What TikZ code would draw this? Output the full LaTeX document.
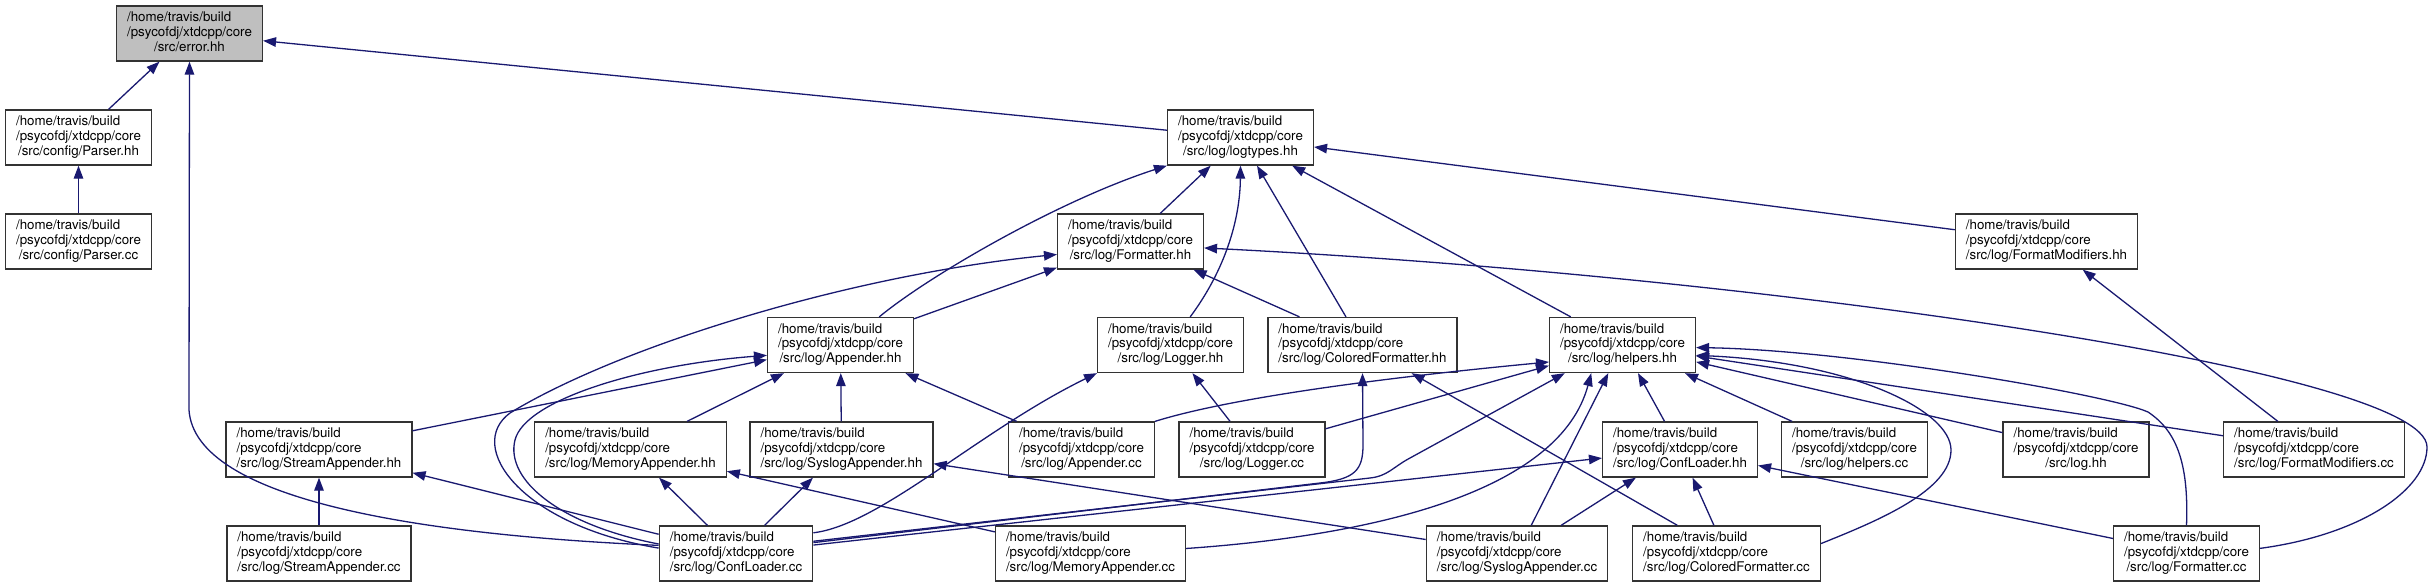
\documentclass[tikz,border=0pt]{standalone}
\usepackage{fontspec}
\setmainfont{TeX Gyre Heros}
\usepackage{xcolor}
\usepackage{tikz}
\usetikzlibrary{arrows.meta}
\definecolor{edgeblue}{HTML}{191970}
\newcommand{\srcfile}[1]{\begin{tabular}{@{}l@{}}/home/travis/build\\/psycofdj/xtdcpp/core\\\multicolumn{1}{@{}c@{}}{#1}\end{tabular}}

\begin{document}
\begin{tikzpicture}[
  x=1pt, y=-1pt,
  file/.style={draw=black!80, line width=1.3pt, fill=white, inner xsep=10.5pt, inner ysep=5pt, minimum height=55pt, font=\fontsize{13.33}{14.7}\selectfont},
  focus/.style={file, fill=black!25},
  dep/.style={-{Triangle[length=13pt,width=9.5pt]}, draw=edgeblue, line width=1.3pt}
]
\useasboundingbox (0,0) rectangle (2434,587);
\node[focus] (errorhh) at (189.5,33.5) {\srcfile{/src/error.hh}};
\node[file] (parserhh) at (78.5,137.5) {\srcfile{/src/config/Parser.hh}};
\node[file] (parsercc) at (78.5,241.5) {\srcfile{/src/config/Parser.cc}};
\node[file] (logtypes) at (1240.5,137.5) {\srcfile{/src/log/logtypes.hh}};
\node[file] (formatterhh) at (1130.5,241.5) {\srcfile{/src/log/Formatter.hh}};
\node[file] (fmtmodhh) at (2046.5,241.5) {\srcfile{/src/log/FormatModifiers.hh}};
\node[file] (appenderhh) at (840.5,345) {\srcfile{/src/log/Appender.hh}};
\node[file] (loggerhh) at (1170.5,345) {\srcfile{/src/log/Logger.hh}};
\node[file] (coloredhh) at (1362.5,345) {\srcfile{/src/log/ColoredFormatter.hh}};
\node[file] (helpershh) at (1622.5,345) {\srcfile{/src/log/helpers.hh}};
\node[file] (streamhh) at (319,449.5) {\srcfile{/src/log/StreamAppender.hh}};
\node[file] (memoryhh) at (630.5,449.5) {\srcfile{/src/log/MemoryAppender.hh}};
\node[file] (sysloghh) at (841.5,449.5) {\srcfile{/src/log/SyslogAppender.hh}};
\node[file] (appendercc) at (1081.5,449.5) {\srcfile{/src/log/Appender.cc}};
\node[file] (loggercc) at (1252,449.5) {\srcfile{/src/log/Logger.cc}};
\node[file] (confloaderhh) at (1680,449.5) {\srcfile{/src/log/ConfLoader.hh}};
\node[file] (helperscc) at (1854.5,449.5) {\srcfile{/src/log/helpers.cc}};
\node[file] (loghh) at (2076,449.5) {\srcfile{/src/log.hh}};
\node[file] (fmtmodcc) at (2314,449.5) {\srcfile{/src/log/FormatModifiers.cc}};
\node[file] (streamcc) at (319,553.5) {\srcfile{/src/log/StreamAppender.cc}};
\node[file] (confloadercc) at (736,553.5) {\srcfile{/src/log/ConfLoader.cc}};
\node[file] (memorycc) at (1090.5,553.5) {\srcfile{/src/log/MemoryAppender.cc}};
\node[file] (syslogcc) at (1517,553.5) {\srcfile{/src/log/SyslogAppender.cc}};
\node[file] (coloredcc) at (1726.5,553.5) {\srcfile{/src/log/ColoredFormatter.cc}};
\node[file] (formattercc) at (2186.5,553.5) {\srcfile{/src/log/Formatter.cc}};
\draw[dep] (parserhh) -- (errorhh);
\draw[dep] (parsercc) -- (parserhh);
\draw[dep] (confloadercc.174) .. controls (420,535) and (195,500) .. (189,410) -- (errorhh.south);
\draw[dep] (logtypes) -- (errorhh);
\draw[dep] (formatterhh) -- (logtypes);
\draw[dep] (appenderhh.36) .. controls (930,275) and (1060,200) .. (logtypes.south west);
\draw[dep] (loggerhh.55) .. controls (1225,270) and (1240,220) .. (logtypes.south);
\draw[dep] (coloredhh) -- (logtypes);
\draw[dep] (helpershh) -- (logtypes);
\draw[dep] (fmtmodhh) -- (logtypes);
\draw[dep] (appenderhh) -- (formatterhh);
\draw[dep] (confloadercc.176) .. controls (520,525) and (465,446) .. (510,413) .. controls (620,346) and (850,275) .. (formatterhh.190);
\draw[dep] (coloredhh) -- (formatterhh);
\draw[dep] (formattercc.4) .. controls (2360,535) and (2427,490) .. (2427,447) .. controls (2427,370) and (1750,275) .. (formatterhh.355);
\draw[dep] (streamhh) -- (appenderhh);
\draw[dep] (memoryhh) -- (appenderhh);
\draw[dep] (sysloghh) -- (appenderhh);
\draw[dep] (appendercc) -- (appenderhh);
\draw[dep] (confloadercc.173) .. controls (560,525) and (505,480) .. (515,440) .. controls (525,400) and (640,365) .. (appenderhh.188);
\draw[dep] (streamcc) -- (streamhh);
\draw[dep] (confloadercc) -- (streamhh);
\draw[dep] (confloadercc) -- (memoryhh);
\draw[dep] (memorycc) -- (memoryhh);
\draw[dep] (confloadercc) -- (sysloghh);
\draw[dep] (syslogcc) -- (sysloghh);
\draw[dep] (confloadercc.15) .. controls (880,525) and (980,430) .. (loggerhh.south west);
\draw[dep] (loggercc) -- (loggerhh);
\draw[dep] (confloadercc.8) -- (1320,483) .. controls (1355,479) and (1363,470) .. (1363,445) -- (coloredhh.south);
\draw[dep] (coloredcc) -- (coloredhh);
\draw[dep] (appendercc.north east) .. controls (1230,398) and (1380,378) .. (helpershh.193);
\draw[dep] (loggercc) -- (helpershh);
\draw[dep] (confloadercc.9) -- (1370,478) .. controls (1388,476) and (1393,467) .. (1410,458) -- (helpershh.206);
\draw[dep] (memorycc.3) .. controls (1380,535) and (1560,490) .. (helpershh.222);
\draw[dep] (syslogcc) -- (helpershh);
\draw[dep] (confloaderhh) -- (helpershh);
\draw[dep] (helperscc) -- (helpershh);
\draw[dep] (loghh) -- (helpershh);
\draw[dep] (fmtmodcc) -- (helpershh);
\draw[dep] (coloredcc.6) .. controls (1880,520) and (1951,490) .. (1951,450) .. controls (1951,410) and (1850,362) .. (helpershh.352);
\draw[dep] (formattercc.north) .. controls (2189,460) and (2175,430) .. (2148,412) .. controls (2110,395) and (1850,350) .. (helpershh.358);
\draw[dep] (fmtmodcc) -- (fmtmodhh);
\draw[dep] (confloadercc) -- (confloaderhh);
\draw[dep] (syslogcc) -- (confloaderhh);
\draw[dep] (coloredcc) -- (confloaderhh);
\draw[dep] (formattercc) -- (confloaderhh);
\end{tikzpicture}
\end{document}
